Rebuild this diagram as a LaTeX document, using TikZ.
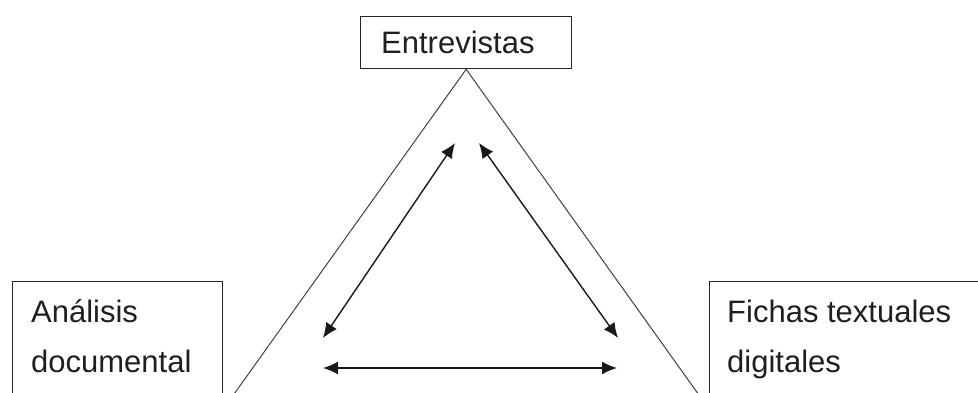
\documentclass[tikz,border=0pt]{standalone}
\usepackage{fontspec}
\setmainfont{Liberation Sans}
\usetikzlibrary{arrows.meta}
\begin{document}
\begin{tikzpicture}[x=1pt,y=-1pt,
  box/.style={draw=black!85, line width=1.3pt, inner sep=0pt},
  lbl/.style={font=\fontsize{31}{50}\selectfont, align=left, inner sep=0pt, anchor=base west, text=black!88},
  tri/.style={line width=1pt, draw=black!75},
  dbl/.style={line width=1.4pt, draw=black!90, {Latex[length=15pt,width=13pt]}-{Latex[length=15pt,width=13pt]}}
]
\useasboundingbox (0,0) rectangle (978,392);
\begin{scope}
\clip (0,0) rectangle (978,392);
\node[box, minimum width=211pt, minimum height=52pt, anchor=north west] (ent) at (360,16) {};
\node[lbl] (entt) at (381,53) {Entrevistas};
\node[box, anchor=north west, minimum width=210pt, minimum height=150pt] (ana) at (12,281) {};
\node[lbl] (anat) at (31,372) {Análisis\\documental};
\node[box, anchor=north west, minimum width=320pt, minimum height=150pt] (fic) at (709,281) {};
\node[lbl] (fict) at (727,372) {Fichas textuales\\digitales};
\coordinate (tl) at ([shift={(-243,340)}]ent.south);
\coordinate (tr) at ([shift={(243,340)}]ent.south);
\draw[tri] (tl) -- (ent.south) -- (tr);
\coordinate (a1) at (455,143);
\coordinate (a2) at (323,338);
\coordinate (a3) at (479,143);
\coordinate (a4) at (618,338);
\coordinate (a5) at (323,368);
\coordinate (a6) at (617,368);
\draw[dbl] (a2) -- (a1);
\draw[dbl] (a3) -- (a4);
\draw[dbl] (a5) -- (a6);
\end{scope}
\end{tikzpicture}
\end{document}
